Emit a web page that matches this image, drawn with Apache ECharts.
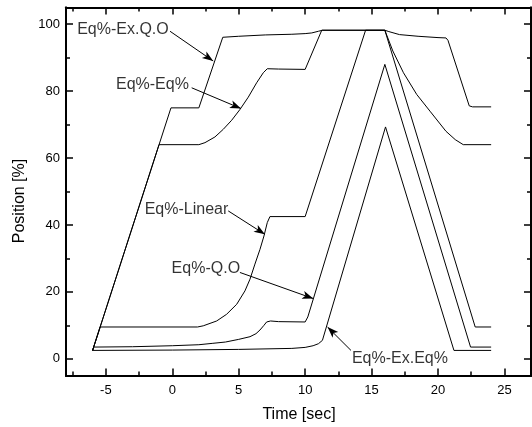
<!DOCTYPE html>
<html>
<head>
<meta charset="utf-8">
<script src="https://cdn.jsdelivr.net/npm/echarts@6/dist/echarts.min.js"></script>
<style>
html,body{margin:0;padding:0;background:#fff;}
#chart{width:532px;height:427px;}
</style>
</head>
<body>
<div id="chart"></div>
<script>
// ---- data ----
const exQO_t = [-6, -0.1, 2.0, 3.8, 5, 7, 9, 10, 10.5, 11, 11.3, 16.0, 16.3, 17.1, 18.5, 20.0, 20.6, 20.75, 22.35, 22.6, 24];
const exQO_y = [2.5, 75, 75, 96.1, 96.4, 96.8, 97.0, 97.2, 97.4, 97.9, 98.2, 98.2, 97.8, 96.9, 96.4, 96.0, 95.9, 95.2, 75.6, 75.3, 75.3];

const eqEq_t = [-6, -1.0, 2.0, 2.46, 3.21, 3.84, 4.47, 5.09, 5.72, 6.35, 6.85, 7.15, 8, 10.0, 11.25, 16.0, 16.6, 17.4, 18.4, 19.4, 20.6, 21.3, 21.9, 24];
const eqEq_y = [2.5, 64, 64, 64.6, 66.3, 68.6, 71.3, 74.5, 78.2, 82.5, 85.5, 86.7, 86.6, 86.5, 98.2, 98.2, 92, 85.5, 79, 74, 68, 65.5, 64, 64];

const lin_t = [-6, -5.43, 1.9, 2.33, 3.34, 4.09, 4.85, 5.47, 5.85, 6.22, 6.6, 6.9, 7.15, 7.35, 10.0, 14.55, 16.0, 22.8, 24];
const lin_y = [2.5, 9.5, 9.5, 9.85, 11.3, 13.3, 16.3, 20.3, 23.8, 28.3, 32.7, 36.7, 40.7, 42.5, 42.5, 98.2, 98.2, 9.5, 9.5];

const qo_t = [-6, -5.9, -3, 0, 2, 3, 4, 5, 5.85, 6.3, 6.6, 6.9, 7.1, 7.4, 8, 10.0, 10.2, 16.0, 22.45, 24];
const qo_y = [2.5, 3.5, 3.6, 3.9, 4.2, 4.6, 5.0, 5.8, 6.6, 7.5, 8.6, 10.0, 11.0, 11.3, 11.1, 11.0, 12.5, 88, 3.5, 3.5];

const exEq_t = [-6, 0, 5, 9, 10.0, 10.6, 11.0, 11.3, 16.05, 21.2, 24];
const exEq_y = [2.5, 2.6, 2.8, 3.1, 3.4, 3.9, 4.5, 5.5, 69.3, 2.5, 2.5];

const seriesNames = ['Eq%-Ex.Q.O', 'Eq%-Eq%', 'Eq%-Linear', 'Eq%-Q.O', 'Eq%-Ex.Eq%'];

// annotation labels (text left edge, vertical centre) and arrows, in data units
const annoText = ['Eq%-Ex.Q.O', 'Eq%-Eq%', 'Eq%-Linear', 'Eq%-Q.O', 'Eq%-Ex.Eq%'];
const annoX = [-7.16, -4.24, -2.08, -0.05, 13.52];
const annoY = [98.4, 82.0, 44.7, 27.1, 0.0];
const arrowFrom = [[-0.17, 97.9], [1.46, 81.0], [4.21, 44.2], [5.09, 25.8], [13.45, 2.5]];
const arrowTo = [[3.08, 89.0], [5.17, 74.8], [6.97, 37.2], [10.61, 18.0], [11.69, 9.46]];

// ticks
const xMajor = [-5, 0, 5, 10, 15, 20, 25];
const xMinor = [-7.5, -2.5, 2.5, 7.5, 12.5, 17.5, 22.5];
const yMajor = [0, 20, 40, 60, 80, 100];
const yMinor = [10, 30, 50, 70, 90];

const xTitle = 'Time [sec]';
const yTitle = 'Position [%]';

// ---- chart ----
const FONT = '"Liberation Sans", Arial, sans-serif';
const chart = echarts.init(document.getElementById('chart'), null, {renderer: 'canvas'});

function zip(t, y) { return t.map((v, i) => [v, y[i]]); }

function xAx(pos, vals, len, labels) {
  return {
    type: 'value', position: pos, min: -8, max: 27,
    axisLine: {show: true, onZero: false, lineStyle: {color: '#000', width: 2}},
    axisTick: {show: true, inside: true, length: len, customValues: vals, lineStyle: {color: '#000', width: 1.5}},
    axisLabel: {show: labels, customValues: vals, margin: 8, color: '#000', fontSize: 13, fontFamily: FONT},
    splitLine: {show: false}
  };
}
function yAx(pos, vals, len, labels) {
  return {
    type: 'value', position: pos, min: -5, max: 105,
    axisLine: {show: true, onZero: false, lineStyle: {color: '#000', width: 2}},
    axisTick: {show: true, inside: true, length: len, customValues: vals, lineStyle: {color: '#000', width: 1.5}},
    axisLabel: {show: labels, customValues: vals, margin: 6, color: '#000', fontSize: 13, fontFamily: FONT},
    splitLine: {show: false}
  };
}

const allT = [exQO_t, eqEq_t, lin_t, qo_t, exEq_t];
const allY = [exQO_y, eqEq_y, lin_y, qo_y, exEq_y];

const series = seriesNames.map((n, i) => ({
  name: n, type: 'line', xAxisIndex: 0, yAxisIndex: 0,
  data: zip(allT[i], allY[i]),
  showSymbol: false, symbol: 'none', smooth: false, silent: true,
  lineStyle: {color: '#000', width: 1},
  animation: false
}));

series[0].markLine = {
  silent: true, animation: false,
  symbol: ['none', 'arrow'], symbolSize: [6, 11],
  lineStyle: {color: '#000', width: 1, type: 'solid'},
  label: {show: false},
  emphasis: {disabled: true},
  data: arrowFrom.map((f, i) => [{coord: f}, {coord: arrowTo[i]}])
};

series.push({
  type: 'scatter', xAxisIndex: 0, yAxisIndex: 0, silent: true, animation: false,
  symbolSize: 0,
  data: annoText.map((t, i) => ({name: t, value: [annoX[i], annoY[i]]})),
  label: {show: true, position: 'right', distance: 0, formatter: '{b}', color: '#000', fontSize: 16, fontFamily: FONT}
});

chart.setOption({
  animation: false,
  backgroundColor: '#fff',
  grid: {left: 66, right: 1, top: 7.5, bottom: 51.5, containLabel: false},
  xAxis: [
    xAx('bottom', xMajor, 7, true),
    xAx('bottom', xMinor, 4, false),
    xAx('top', xMajor, 7, false),
    xAx('top', xMinor, 4, false)
  ],
  yAxis: [
    yAx('left', yMajor, 7, true),
    yAx('left', yMinor, 4, false),
    yAx('right', yMajor, 7, false),
    yAx('right', yMinor, 4, false)
  ],
  graphic: [
    {type: 'text', x: 299, y: 415, silent: true,
     style: {text: xTitle, font: '16px ' + FONT, fill: '#000', textAlign: 'center', textVerticalAlign: 'middle'}},
    {type: 'text', x: 19.5, y: 201, rotation: Math.PI / 2, silent: true,
     style: {text: yTitle, font: '16px ' + FONT, fill: '#000', textAlign: 'center', textVerticalAlign: 'middle'}}
  ],
  series: series
});
</script>
</body>
</html>
